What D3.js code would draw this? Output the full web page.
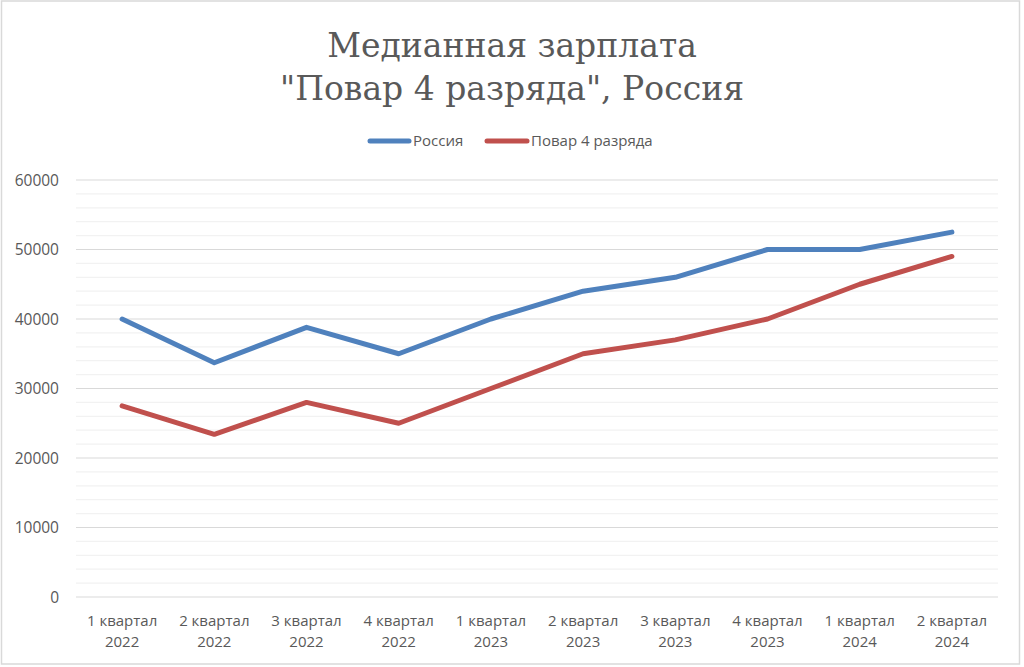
<!DOCTYPE html>
<html><head><meta charset="utf-8">
<script src="https://cdn.jsdelivr.net/npm/d3@7"></script>
<style>html,body{margin:0;padding:0;background:#fff;}svg{display:block;}</style>
</head><body>
<svg id="chart" width="1024" height="667"></svg>
<script>
const titleLines = ["Медианная зарплата", "\"Повар 4 разряда\", Россия"];
const categories = ["1 квартал|2022","2 квартал|2022","3 квартал|2022","4 квартал|2022","1 квартал|2023","2 квартал|2023","3 квартал|2023","4 квартал|2023","1 квартал|2024","2 квартал|2024"];
const seriesNames = ["Россия", "Повар 4 разряда"];
const russia = [40000, 33700, 38800, 35000, 40000, 44000, 46000, 50000, 50000, 52500];
const cook = [27500, 23400, 28000, 25000, 30000, 35000, 37000, 40000, 45000, 49000];
const yTicks = [0, 10000, 20000, 30000, 40000, 50000, 60000];
const colors = ["#4F81BD", "#C0504D"];

const svg = d3.select("#chart");
const m = {left: 76, right: 998, top: 180, bottom: 597};

svg.append("rect").attr("x", 1.5).attr("y", 1).attr("width", 1018).attr("height", 663)
  .attr("fill", "#fff").attr("stroke", "#d9d9d9").attr("stroke-width", 1.5);

const x = d3.scaleBand().domain(categories).range([m.left, m.right]);
const y = d3.scaleLinear().domain([0, 60000]).range([m.bottom, m.top]);

// minor gridlines
const minor = d3.range(0, 60001, 2000).filter(v => v % 10000 !== 0);
svg.append("g").selectAll("line").data(minor).join("line")
  .attr("x1", m.left).attr("x2", m.right)
  .attr("y1", d => y(d)).attr("y2", d => y(d))
  .attr("stroke", "#f2f2f2").attr("stroke-width", 1.2);

// major gridlines
svg.append("g").selectAll("line").data(yTicks).join("line")
  .attr("x1", m.left).attr("x2", m.right)
  .attr("y1", d => y(d)).attr("y2", d => y(d))
  .attr("stroke", "#d9d9d9").attr("stroke-width", 1.2);

// y axis
const yAxis = d3.axisLeft(y).tickValues(yTicks).tickSize(0).tickPadding(0).tickFormat(d3.format("d"));
const ya = svg.append("g").attr("transform", `translate(59,0)`).call(yAxis);
ya.select(".domain").remove();
ya.selectAll("text").attr("font-family", "'Open Sans', sans-serif").attr("font-size", 15.5)
  .attr("fill", "#595959").attr("dy", "0.35em");

// x axis
const xAxis = d3.axisBottom(x).tickSize(0).tickFormat("");
const xa = svg.append("g").attr("transform", `translate(0,${m.bottom})`).call(xAxis);
xa.select(".domain").remove();
xa.selectAll(".tick").each(function(d) {
  const parts = d.split("|");
  const t = d3.select(this).append("text")
    .attr("font-family", "'Open Sans', sans-serif").attr("font-size", 15)
    .attr("fill", "#595959").attr("text-anchor", "middle");
  t.append("tspan").attr("x", 0).attr("y", 29).text(parts[0]);
  t.append("tspan").attr("x", 0).attr("y", 50).text(parts[1]);
});

// lines
const line = d3.line().x((d, i) => x(categories[i]) + x.bandwidth() / 2).y(d => y(d));
[russia, cook].forEach((s, k) => {
  svg.append("path").datum(s).attr("d", line).attr("fill", "none")
    .attr("stroke", colors[k]).attr("stroke-width", 5)
    .attr("stroke-linecap", "round").attr("stroke-linejoin", "round");
});

// title
const title = svg.append("text").attr("text-anchor", "middle")
  .attr("font-family", "'DejaVu Serif', serif").attr("font-size", 33).attr("fill", "#595959");
title.append("tspan").attr("x", 512).attr("y", 57).text(titleLines[0]);
title.append("tspan").attr("x", 512).attr("y", 100).text(titleLines[1]);

// legend
const legendItems = [{x1: 370, x2: 409, tx: 413}, {x1: 487, x2: 527, tx: 531}];
legendItems.forEach((p, k) => {
  svg.append("line").attr("x1", p.x1).attr("x2", p.x2).attr("y1", 141).attr("y2", 141)
    .attr("stroke", colors[k]).attr("stroke-width", 5).attr("stroke-linecap", "round");
  svg.append("text").attr("x", p.tx).attr("y", 141).attr("dy", "0.35em")
    .attr("font-family", "'Open Sans', sans-serif").attr("font-size", 15)
    .attr("fill", "#595959").text(seriesNames[k]);
});
</script>
</body></html>
